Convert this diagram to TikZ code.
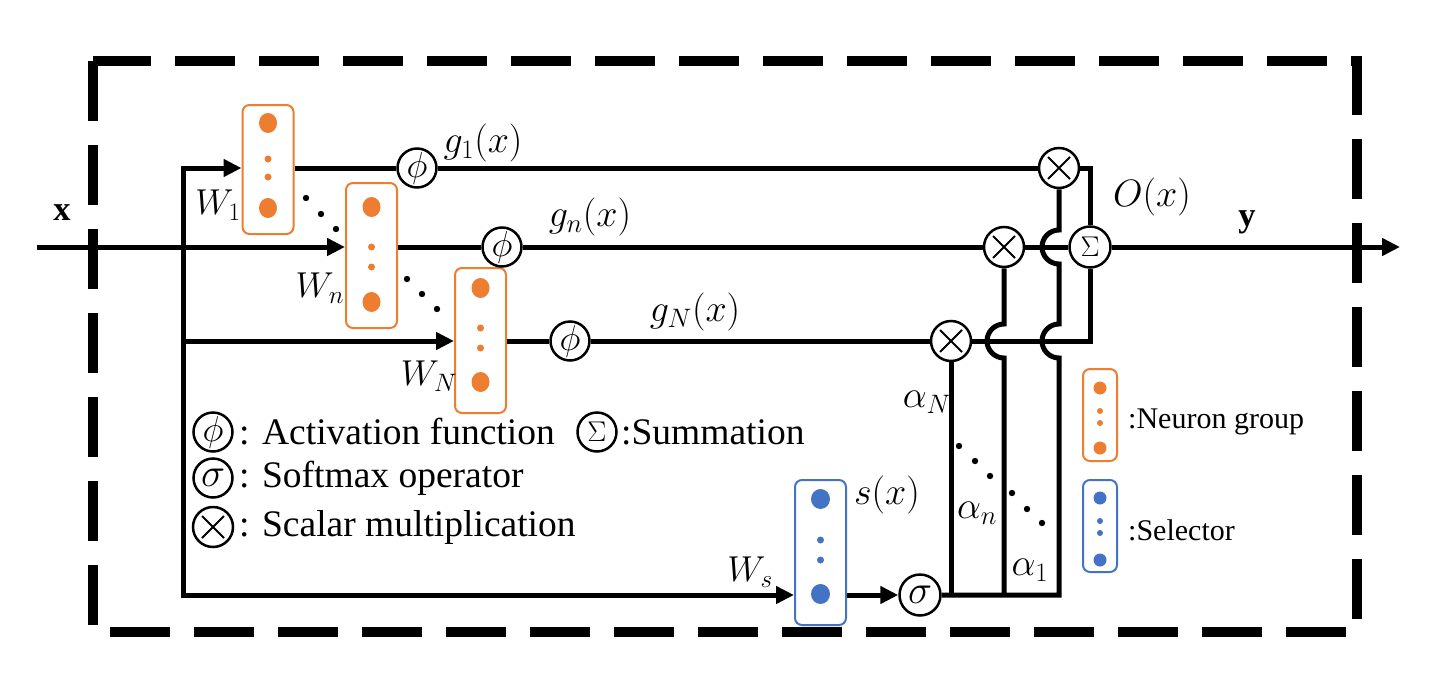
\RequirePackage{fix-cm}
\documentclass[tikz,border=0pt]{standalone}
\usepackage{amsmath}
\usepackage{amssymb}
\usepackage{graphicx}
\usepackage{fontspec}
\setmainfont{Liberation Serif}
\newfontfamily\legfont{Liberation Serif}
\usepackage{tikz}
\usetikzlibrary{arrows.meta}
\definecolor{ngorange}{RGB}{237,125,49}
\definecolor{selblue}{RGB}{68,114,196}
\newcommand{\bigsym}[2][1.2]{\scalebox{#1}{$#2$}}
\newcommand{\legline}[1]{\scalebox{1.25}{#1}}
\tikzset{
  conn/.style={line width=5pt},
  arr/.style={conn, -{Triangle[length=18pt,width=17pt]}},
  opnode/.style={circle, draw, line width=2.5pt, minimum size=39pt, inner sep=0pt, fill=white, font=\fontsize{30}{30}\selectfont},
  multnode/.style={opnode, minimum size=40pt, path picture={
      \draw[line width=2pt] ([shift={(-11pt,-11pt)}]path picture bounding box.center) -- ([shift={(11pt,11pt)}]path picture bounding box.center);
      \draw[line width=2pt] ([shift={(-11pt,11pt)}]path picture bounding box.center) -- ([shift={(11pt,-11pt)}]path picture bounding box.center);}},
  ngroup/.style={draw=ngorange, line width=2pt, rounded corners=7pt, minimum width=51pt, inner sep=0pt},
  selbox/.style={ngroup, draw=selblue},
  lbl/.style={inner sep=0pt, font=\fontsize{30}{36}\selectfont},
  legtext/.style={inner sep=0pt, anchor=west, font=\legfont\fontsize{30}{36}\selectfont}
}
\begin{document}
\begin{tikzpicture}[x=1pt, y=-1pt]
	\useasboundingbox (0,0) rectangle (1440,696);
	\draw[line width=10pt, dash pattern=on 60pt off 24pt] (93,61) rectangle (1357,632);
	% neuron groups and selector
	\node[ngroup, minimum height=129pt] (box1) at (268,169.5) {};
	\node[ngroup, minimum height=145pt] (boxn) at (371.5,255.5) {};
	\node[ngroup, minimum height=145pt] (boxN) at (480.5,340.5) {};
	\node[selbox, minimum height=145pt] (boxs) at (820.5,552.5) {};
	\foreach \cx/\ya/\yb/\yc/\yd in {268/123/159/177/208, 371.5/207/247/267/302, 480.5/288/328/348/382}{
		\fill[ngorange] (\cx,\ya) ellipse (9 and 10) (\cx,\yd) ellipse (9 and 10);
		\fill[ngorange] (\cx,\yb) circle (3.5) (\cx,\yc) circle (3.5);
	}
	\fill[selblue] (820.5,499) ellipse (9.5 and 10) (820.5,594) ellipse (9.5 and 10);
	\fill[selblue] (820.5,540) circle (3.5) (820.5,560) circle (3.5);
	% operators
	\node[opnode] (phi1) at (417,168) {\bigsym{\phi}};
	\node[opnode] (phin) at (502,247) {\bigsym{\phi}};
	\node[opnode] (phiN) at (570,341) {\bigsym{\phi}};
	\node[multnode] (mul1) at (1059,168) {};
	\node[multnode] (muln) at (1004,247) {};
	\node[multnode] (mulN) at (951,341) {};
	\node[opnode, minimum size=41pt] (sum) at (1090,247) {\bigsym[0.95]{\Sigma}};
	\node[opnode, minimum size=41pt] (soft) at (920,595) {\bigsym[1.35]{\sigma}};
	% connectors
	\coordinate (xin) at (37,247);
	\coordinate (yout) at (1400,247);
	\coordinate (t1) at (183,168);
	\coordinate (tN) at (183,341);
	\coordinate (ts) at (183,595);
	\draw[arr] (xin) -- (xin -| boxn.west);
	\draw[conn, {Triangle[length=18pt,width=17pt]}-{Triangle[length=18pt,width=17pt]}] (t1 -| box1.west) -- (t1) -- (ts) -- (ts -| boxs.west);
	\draw[arr] (tN) -- (tN -| boxN.west);
	\draw[conn] (t1 -| box1.east) -- (phi1) -- (mul1);
	\draw[conn] (xin -| boxn.east) -- (phin) -- (muln) -- (sum);
	\draw[conn] (tN -| boxN.east) -- (phiN) -- (mulN);
	\draw[conn] (mul1) -| (sum);
	\draw[conn] (mulN) -| (sum);
	\draw[arr] (sum) -- (yout);
	\draw[arr] (ts -| boxs.east) -- (soft);
	\draw[conn] (mulN) -- (mulN |- soft);
	\draw[conn] (muln) -- (1004,324) arc[start angle=270, end angle=90, radius=17] -- (1004,595);
	\draw[conn] (soft) -- (1059,595) -- (1059,358) arc[start angle=90, end angle=270, radius=17] -- (1059,264) arc[start angle=90, end angle=270, radius=17] -- (mul1);
	% dots
	\foreach \p in {(306,198),(321,214),(336,229),(407,279),(422,294),(437,309),(959,446),(975,461),(990,476),(1012,493),(1027,509),(1042,523)}
		\fill \p circle (3.2);
	% labels
	\node[lbl] (xlab) at (62,213) {\bigsym[1.15]{\mathbf{x}}};
	\node[lbl] (ylab) at (1247,222) {\bigsym[1.15]{\mathbf{y}}};
	\node[lbl] (g1) at (483,143) {\bigsym[1.27]{g_1(x)}};
	\node[lbl] (gn) at (590,217) {\bigsym[1.27]{g_n(x)}};
	\node[lbl] (gN) at (695,312) {\bigsym[1.27]{g_N(x)}};
	\node[lbl] (ox) at (1152,197) {\bigsym[1.27]{O(x)}};
	\node[lbl] (w1) at (218,205) {\bigsym{W_1}};
	\node[lbl] (wn) at (320,288) {\bigsym{W_n}};
	\node[lbl] (wN) at (429,376) {\bigsym{W_N}};
	\node[lbl] (ws) at (750,572) {\bigsym{W_s}};
	\node[lbl] (sx) at (887,495) {\bigsym[1.27]{s(x)}};
	\node[lbl] (aN) at (927,402) {\bigsym[1.27]{\alpha_N}};
	\node[lbl] (an) at (977,513) {\bigsym[1.27]{\alpha_n}};
	\node[lbl] (a1) at (1030,570) {\bigsym[1.27]{\alpha_1}};
	% legend
	\node[opnode] (lphi) at (213,432) {\bigsym{\phi}};
	\node[opnode] (lsum) at (597,432) {\bigsym[0.95]{\Sigma}};
	\node[opnode] (lsig) at (213,478) {\bigsym[1.35]{\sigma}};
	\node[multnode] (lmul) at (213,527) {};
	\node[legtext] (tphi) at (239,432) {\legline{: Activation function}};
	\node[legtext] (tsum) at (621,432) {\legline{:Summation}};
	\node[legtext] (tsig) at (239,478) {\legline{: Softmax operator}};
	\node[legtext] (tmul) at (239,527) {\legline{: Scalar multiplication}};
	\node[ngroup, minimum width=34pt, minimum height=92pt] (lng) at (1100,415) {};
	\node[selbox, minimum width=34pt, minimum height=92pt] (lsel) at (1100,526) {};
	\fill[ngorange] (1100,388) circle (6.5) (1100,448) circle (6.5) (1100,411) circle (3) (1100,423) circle (3);
	\fill[selblue] (1100,498) circle (6.5) (1100,560) circle (6.5) (1100,521) circle (3) (1100,533) circle (3);
	\node[legtext] (tng) at (1128,422) {:Neuron group};
	\node[legtext] (tsel) at (1128,530) {:Selector};
\end{tikzpicture}
\end{document}
